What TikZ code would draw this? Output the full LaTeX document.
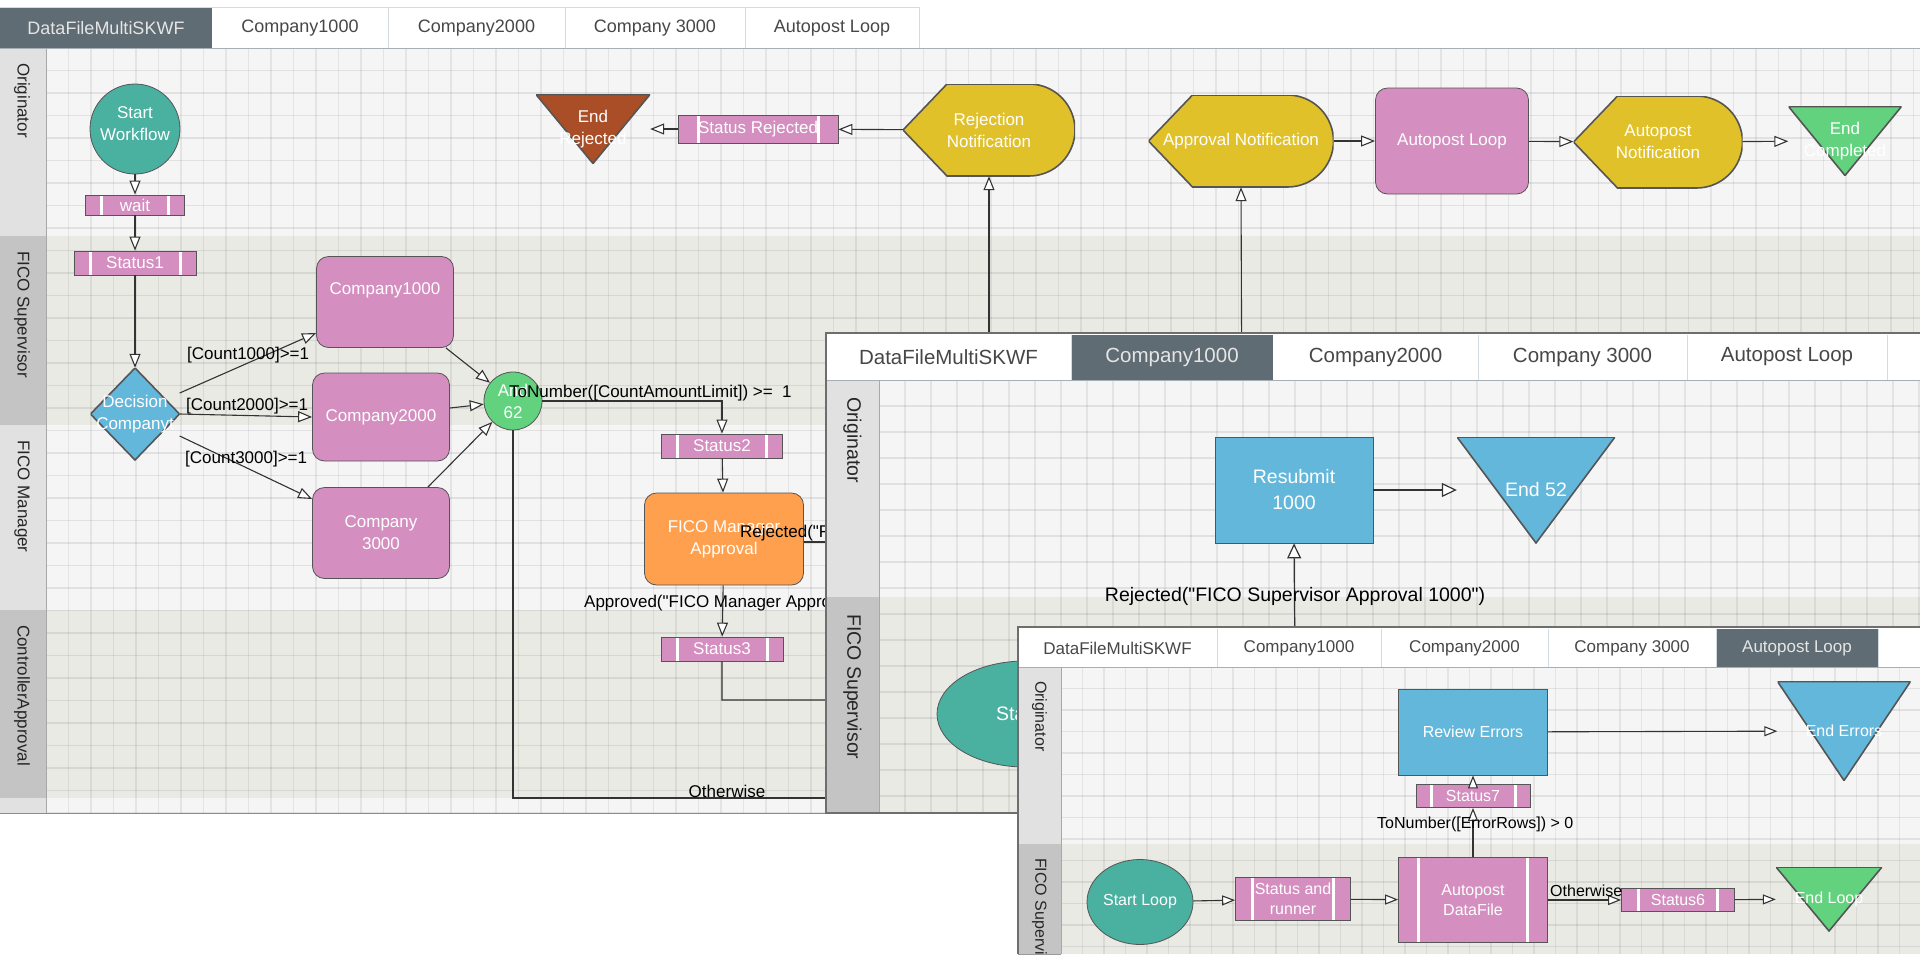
\documentclass[tikz,border=0pt]{standalone}
\usepackage{fontspec}
\setmainfont{Liberation Sans}[Ligatures=TeXOff]
\usepackage{xcolor}
\definecolor{pinkc}{RGB}{212,142,192}
\definecolor{tealc}{RGB}{74,176,160}
\definecolor{bluec}{RGB}{99,183,219}
\definecolor{greenc}{RGB}{98,210,127}
\definecolor{yellowc}{RGB}{225,193,42}
\definecolor{brownc}{RGB}{169,78,38}
\definecolor{orangec}{RGB}{254,160,78}
\definecolor{tabslate}{RGB}{95,108,116}
\definecolor{lanelight}{RGB}{245,245,245}
\definecolor{lanedark}{RGB}{233,234,228}
\definecolor{headlight}{RGB}{225,225,225}
\definecolor{headdark}{RGB}{196,196,196}
\definecolor{tabline}{RGB}{210,218,226}
\definecolor{edgegray}{RGB}{85,85,85}
\definecolor{framegray}{RGB}{110,110,110}
\usepackage{tikz}
\usetikzlibrary{arrows.meta,shapes.geometric,positioning,calc}

\begin{document}
\begin{tikzpicture}[x=1pt, y=-1pt,
    fA/.style={font=\fontsize{17}{22}\selectfont},
    fB/.style={font=\fontsize{19.5}{26}\selectfont},
    fC/.style={font=\fontsize{16}{20.5}\selectfont},
    tabA/.style={font=\fontsize{18}{20}\selectfont, text=black!72},
    tabB/.style={font=\fontsize{20.5}{22}\selectfont, text=black!72},
    tabC/.style={font=\fontsize{17}{19}\selectfont, text=black!72},
    tabon/.style={text=white!90!black},
    lanehead/.style={rotate=-90, anchor=west, inner sep=0pt, text=black!85},
    gridv/.style={black, opacity=0.065, line width=1.3pt},
    gridh/.style={black, opacity=0.08, line width=1.9pt},
    shp/.style={draw=edgegray, line width=0.8pt, text=white, align=center, inner sep=0pt},
    rbox/.style={shp, fill=pinkc, rounded corners=12pt},
    bluebox/.style={shp, fill=bluec},
    circ/.style={shp, circle},
    ellip/.style={shp, ellipse},
    statbox/.style={shp, fill=pinkc, minimum height=24pt,
      path picture={\draw[white, line width=3pt]
        ([xshift=#1]path picture bounding box.north west) -- ([xshift=#1]path picture bounding box.south west)
        ([xshift=-#1]path picture bounding box.north east) -- ([xshift=-#1]path picture bounding box.south east);}},
    statbox/.default=16pt,
    endtri/.style={inner sep=0pt, text=white, align=center,
      path picture={\path[fill=#1, draw=edgegray, line width=1.6pt]
        (path picture bounding box.north west) -- (path picture bounding box.north east)
        -- (path picture bounding box.south) -- cycle;}},
    diam/.style={inner sep=0pt, text=white, align=center,
      path picture={\path[fill=bluec, draw=edgegray, line width=1.6pt]
        (path picture bounding box.north) -- (path picture bounding box.east)
        -- (path picture bounding box.south) -- (path picture bounding box.west) -- cycle;}},
    dispbox/.style={inner sep=0pt, text=white, align=center, minimum height=92pt,
      path picture={\path[fill=yellowc, draw=edgegray, line width=1.6pt]
        (path picture bounding box.west) -- ([xshift=44pt]path picture bounding box.north west)
        -- ([xshift=-46pt]path picture bounding box.north east)
        arc[start angle=90, end angle=-90, radius=46pt]
        -- ([xshift=44pt]path picture bounding box.south west) -- cycle;}},
    arrA/.style={-{Triangle[length=14pt, width=11pt, fill=white]}, draw=black!80, line width=1.1pt},
    arrB/.style={-{Triangle[length=15pt, width=14pt, fill=white]}, draw=black!80, line width=1.2pt},
    arrC/.style={-{Triangle[length=13pt, width=10pt, fill=white]}, draw=black!80, line width=1.1pt},
    elbl/.style={inner sep=0pt, text=black},
  ]
  \useasboundingbox (0,0) rectangle (1920,954);
  \fill[white] (0,0) rectangle (1920,954);

  % ---- window: DataFileMultiSKWF
  \fill[white] (0,7) rectangle (919,48);
  \fill[tabslate] (0,7) rectangle (212,48);
  \node[tabA, tabon] (tabA1) at (106,28) {DataFileMultiSKWF};
  \foreach \xa/\xb/\tabname [count=\i from 2] in {212/388/Company1000, 388/565/Company2000, 565/745/Company 3000, 745/919/Autopost Loop}{
    \draw[tabline] (\xb,7) -- (\xb,48);
    \node[tabA] (tabA\i) at ({(\xa+\xb)/2},28) {\tabname};
  }
  \draw[tabline] (0,7) -- (919,7);

  \foreach \ya/\yb/\hc/\bc/\lab [count=\i] in {48/236/headlight/lanelight/Originator, 236/425/headdark/lanedark/FICO Supervisor, 425/610/headlight/lanelight/FICO Manager, 610/798/headdark/lanedark/ControllerApproval}{
    \fill[fill=\bc] (46,\ya) rectangle (1920,\yb);
    \fill[fill=\hc] (0,\ya) rectangle (46,\yb);
    \draw[framegray!70] (0,\yb) -- (46,\yb);
    \node[lanehead, fA] (laneA\i) at (22,{\ya+15}) {\lab};
  }
  \fill[lanelight] (46,798) rectangle (1920,813);
  \fill[headlight] (0,798) rectangle (46,813);
  \begin{scope}
    \clip (46,48) rectangle (1920,813);
    \foreach \k in {0,...,83} \draw[gridv] ({46+22.5*\k},48) -- ({46+22.5*\k},813);
    \foreach \k in {0,...,34} \draw[gridh] (46,{48+22.5*\k}) -- (1920,{48+22.5*\k});
  \end{scope}
  \draw[framegray!60] (46,48) -- (46,813);
  \draw[tabline!80!black] (0,48) -- (1920,48);
  \draw[framegray!80] (0,813) -- (1920,813);

  \node[circ, fill=tealc, minimum size=90pt, fA] (startwf) at (135,129) {Start\\Workflow\\[-12pt]\mbox{}};
  \node[statbox, minimum width=99pt, minimum height=20pt, fA] (wait) at (135,205) {wait};
  \node[statbox, minimum width=122pt, fA] (status1) at (135,263) {Status1};
  \node[diam, minimum width=89pt, minimum height=92pt, fA] (deccomp) at (135,414) {Decision\\Companyt};
  \node[rbox, minimum width=137pt, minimum height=91pt, fA] (c1000) at (385,302) {Company1000\\[4pt]\mbox{}};
  \node[rbox, minimum width=137pt, minimum height=88pt, fA] (c2000) at (381,417) {Company2000};
  \node[rbox, minimum width=137pt, minimum height=91pt, fA] (c3000) at (381,533) {Company\\3000};
  \node[circ, fill=greenc, minimum size=58pt, fA] (and62) at (513,401) {And\\62};
  \node[statbox, minimum width=121pt, fA] (status2) at (722,446) {Status2};
  \node[rbox, fill=orangec, minimum width=159pt, minimum height=92pt, fA] (ficoman) at (724,539) {FICO Manager\\Approval};
  \node[statbox, minimum width=122pt, fA] (status3) at (722,649) {Status3};

  \node[endtri=brownc, minimum width=114pt, minimum height=69pt, fA] (endrej) at (593,129) {End\\Rejected};
  \node[statbox=20pt, minimum width=160pt, minimum height=28pt, fA] (statrej) at (758,129) {Status Rejected};
  \node[dispbox, minimum width=172pt, fA] (rejnote) at (989,130) {Rejection\\Notification};
  \node[dispbox, minimum width=185pt, fA] (apprnote) at (1241,141) {Approval Notification};
  \node[rbox, minimum width=153pt, minimum height=106pt, fA] (aploop) at (1452,141) {Autopost Loop};
  \node[dispbox, minimum width=169pt, fA] (apnote) at (1658,142) {Autopost\\Notification};
  \node[endtri=greenc, minimum width=113pt, minimum height=69pt, fA] (endcomp) at (1845,141) {End\\Completed};

  \coordinate (s3end) at (1243,700);
  \coordinate (othend) at (900,798);

  \draw[arrA] (startwf) -- (wait);
  \draw[arrA] (wait) -- (status1);
  \draw[arrA] (status1) -- (deccomp);
  \draw[arrA] ([yshift=21pt]deccomp.east) -- ([yshift=-31pt]c1000.west);
  \draw[arrA] (deccomp.east) -- (c2000.west);
  \draw[arrA] ([yshift=-22pt]deccomp.east) -- ([yshift=34pt]c3000.west);
  \draw[arrA] ([xshift=-8pt]c1000.south east) -- (and62);
  \draw[arrA] ([yshift=9pt]c2000.east) -- (and62);
  \draw[arrA] ([xshift=-22pt]c3000.north east) -- (and62);
  \draw[arrA] (and62.east) -| (status2.north);
  \draw[arrA] (status2) -- (ficoman);
  \draw[arrA] (ficoman) -- (status3);
  \draw[arrA] ([yshift=-3pt]ficoman.east) -| (rejnote.south);
  \draw[arrA] (status3.south) |- (s3end) -- (apprnote.south);
  \draw[draw=black!80, line width=1.1pt] (and62.south) |- (othend);
  \draw[arrA] (rejnote) -- (statrej);
  \draw[arrA] (statrej) -- (endrej);
  \draw[arrA] (apprnote) -- (aploop);
  \draw[arrA] (aploop) -- (apnote);
  \draw[arrA] (apnote) -- (endcomp);

  \node[elbl, fA, anchor=west] (lbl1000) at (187,355) {[Count1000]>=1};
  \node[elbl, fA, anchor=west] (lbl2000) at (186,406) {[Count2000]>=1};
  \node[elbl, fA, anchor=west] (lbl3000) at (185,459) {[Count3000]>=1};
  \node[elbl, fA, anchor=west] (lbllimit) at (509,393) {ToNumber([CountAmountLimit]) >= \ 1};
  \node[elbl, fA, anchor=west] (lblrej) at (740,533) {Rejected("F};
  \node[elbl, fA, anchor=west] (lblappr) at (584,603) {Approved("FICO Manager Appro};
  \node[elbl, fA] (lblother) at (727,791) {Otherwise};

  % ---- window: Company1000
  \fill[white] (826,333) rectangle (1920,813);
  \fill[tabslate] (1071,335) rectangle (1273,380);
  \node[tabB, tabon] (tabB2) at (1172,357) {Company1000};
  \foreach \xa/\xb/\tabname [count=\i] in {826/1071/DataFileMultiSKWF, 1273/1478/Company2000, 1478/1687/Company 3000, 1687/1887/Autopost Loop}{
    \draw[tabline] (\xb,335) -- (\xb,380);
    \node[tabB] (tabBx\i) at ({(\xa+\xb)/2},357) {\tabname};
  }
  \foreach \ya/\yb/\hc/\bc/\lab [count=\i] in {380/597/headlight/lanelight/Originator, 597/813/headdark/lanedark/FICO Supervisor}{
    \fill[fill=\bc] (879,\ya) rectangle (1920,\yb);
    \fill[fill=\hc] (826,\ya) rectangle (879,\yb);
    \draw[framegray!70] (826,\yb) -- (879,\yb);
    \node[lanehead, fB] (laneB\i) at (852.5,{\ya+17}) {\lab};
  }
  \begin{scope}
    \clip (879,380) rectangle (1920,813);
    \foreach \k in {0,...,40} \draw[gridv] ({879+26*\k},380) -- ({879+26*\k},813);
    \foreach \k in {0,...,17} \draw[gridh] (879,{380+26*\k}) -- (1920,{380+26*\k});
  \end{scope}
  \draw[framegray!60] (879,380) -- (879,813);
  \draw[tabline!80!black] (826,380) -- (1920,380);
  \draw[framegray, line width=1.5pt] (1920,333) -- (826,333) -- (826,813) -- (1920,813);

  \node[bluebox, minimum width=158pt, minimum height=106pt, fB] (resub) at (1294,490) {Resubmit\\1000};
  \node[endtri=bluec, minimum width=158pt, minimum height=106pt, fB] (end52) at (1536,490) {End 52};
  \node[ellip, fill=tealc, minimum width=176pt, minimum height=106pt, text width=58pt, align=left, fB] (startsup) at (1025,714) {Sta};
  \coordinate (supB) at (1295,660);
  \draw[arrB] (resub) -- (end52);
  \draw[arrB] (supB) -- (resub.south);
  \node[elbl, fB] (lblrejB) at (1295,596) {Rejected("FICO Supervisor Approval 1000")};

  % ---- window: Autopost Loop
  \fill[white] (1018,627) rectangle (1920,954);
  \fill[tabslate] (1716,629) rectangle (1878,667);
  \node[tabC, tabon] (tabC5) at (1797,648) {Autopost Loop};
  \foreach \xa/\xb/\tabname [count=\i] in {1018/1217/DataFileMultiSKWF, 1217/1381/Company1000, 1381/1548/Company2000, 1548/1716/Company 3000}{
    \draw[tabline] (\xb,629) -- (\xb,667);
    \node[tabC] (tabCx\i) at ({(\xa+\xb)/2},648) {\tabname};
  }
  \draw[tabline] (1878,629) -- (1878,667);
  \foreach \ya/\yb/\hc/\bc/\lab [count=\i] in {667/844/headlight/lanelight/Originator, 844/954/headdark/lanedark/FICO Supervi}{
    \fill[fill=\bc] (1061,\ya) rectangle (1920,\yb);
    \fill[fill=\hc] (1018,\ya) rectangle (1061,\yb);
    \draw[framegray!70] (1018,\yb) -- (1061,\yb);
    \node[lanehead, fC] (laneC\i) at (1039.5,{\ya+14}) {\lab};
  }
  \begin{scope}
    \clip (1061,667) rectangle (1920,954);
    \foreach \k in {0,...,40} \draw[gridv] ({1061+21.5*\k},667) -- ({1061+21.5*\k},954);
    \foreach \k in {0,...,14} \draw[gridh] (1061,{667+21.5*\k}) -- (1920,{667+21.5*\k});
  \end{scope}
  \draw[framegray!60] (1061,667) -- (1061,954);
  \draw[tabline!80!black] (1018,667) -- (1920,667);
  \draw[framegray, line width=1.5pt] (1920,627) -- (1018,627) -- (1018,954);

  \node[bluebox, minimum width=149pt, minimum height=86pt, fC] (reverr) at (1473,732) {Review Errors};
  \node[endtri=bluec, minimum width=133pt, minimum height=99pt, fC] (enderr) at (1844,731) {End Errors};
  \node[statbox=15pt, minimum width=114pt, minimum height=23pt, fC] (status7) at (1473,796) {Status7};
  \node[statbox=20pt, minimum width=149pt, minimum height=85pt, fC] (apdf) at (1473,900) {Autopost\\DataFile};
  \node[ellip, fill=tealc, minimum width=106pt, minimum height=85pt, fC] (startloop) at (1140,902) {Start Loop};
  \node[statbox=17pt, minimum width=115pt, minimum height=43pt, fC] (statrun) at (1293,899) {Status and\\runner};
  \node[statbox=17pt, minimum width=113pt, minimum height=23pt, fC] (status6) at (1678,900) {Status6};
  \node[endtri=greenc, minimum width=106pt, minimum height=64pt, fC] (endloop) at (1829,899) {End Loop};

  \draw[arrC] (startloop) -- (statrun);
  \draw[arrC] (statrun) -- (apdf);
  \draw[arrC] (apdf) -- (status6);
  \draw[arrC] (status6) -- (endloop);
  \draw[arrC] (apdf) -- (status7);
  \draw[arrC] (status7) -- (reverr);
  \draw[arrC] (reverr) -- (enderr);

  \node[elbl, fC, anchor=west] (lblerr) at (1377,824) {ToNumber([ErrorRows]) > 0};
  \node[elbl, fC, anchor=west] (lblotherC) at (1550,891) {Otherwise};
\end{tikzpicture}
\end{document}
